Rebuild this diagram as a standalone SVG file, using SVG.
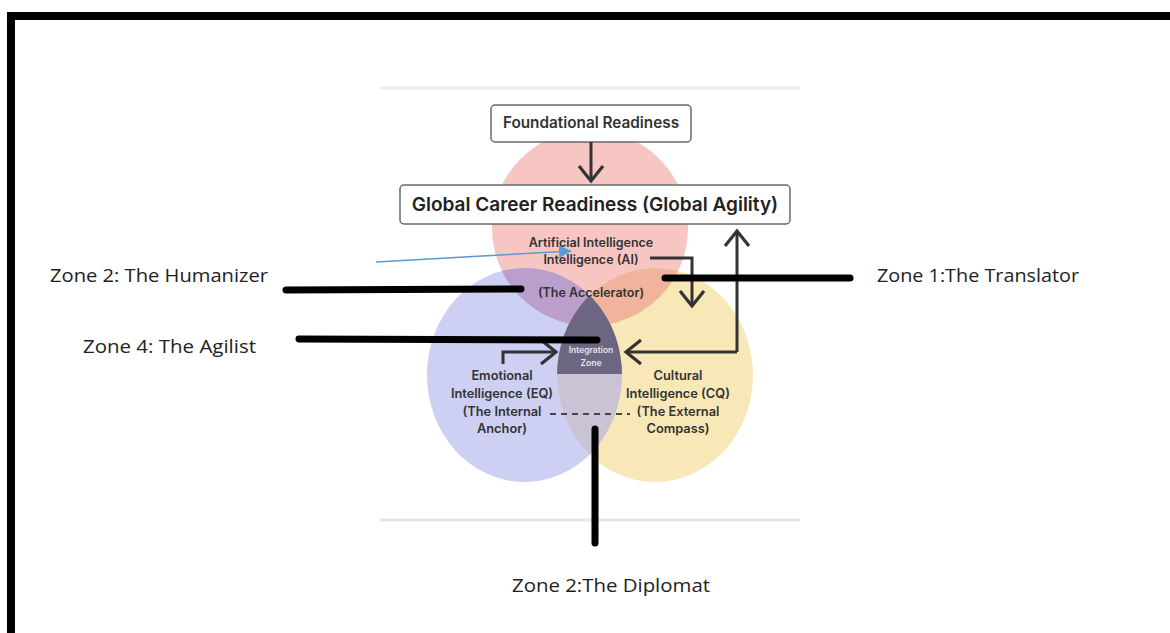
<svg xmlns="http://www.w3.org/2000/svg" width="1170" height="633" viewBox="0 0 1170 633">
  <style>
    .box { fill: #ffffff; stroke: #6a6a6a; stroke-width: 1.5; }
    .dtext { font-family: Inter, "Liberation Sans", sans-serif; font-weight: 600; fill: #333333; text-anchor: middle; }
    .zone { font-family: "Open Sans", "Liberation Sans", sans-serif; font-size: 18.5px; fill: #222222; }
    .flow { fill: none; stroke: #333333; stroke-width: 3; }
    .bar { fill: none; stroke: #000000; stroke-width: 7; stroke-linecap: round; }
  </style>
  <defs>
    <marker id="chev" markerUnits="userSpaceOnUse" markerWidth="22" markerHeight="30" refX="17" refY="14" orient="auto" overflow="visible">
      <path d="M2,2 L17,14 L2,26" fill="none" stroke="#333333" stroke-width="3.2" stroke-linejoin="miter"/>
    </marker>
    <marker id="blueHead" markerUnits="userSpaceOnUse" markerWidth="14" markerHeight="12" refX="12" refY="6" orient="auto">
      <path d="M0,0 L13,6 L0,12 z" fill="#5b9bd5"/>
    </marker>
    <clipPath id="clipBlue"><ellipse cx="524.5" cy="375" rx="97.5" ry="107"/></clipPath>
    <clipPath id="clipYellow"><ellipse cx="655" cy="375" rx="98" ry="107"/></clipPath>
    <clipPath id="clipTop"><rect x="500" y="200" width="200" height="174"/></clipPath>
  </defs>

  <rect x="0" y="0" width="1170" height="633" fill="#ffffff"/>

  <!-- outer frame -->
  <path d="M11,633 L11,16 L1170,16" fill="none" stroke="#000000" stroke-width="8"/>

  <!-- light separators of embedded picture -->
  <line x1="380" y1="88" x2="800" y2="88" stroke="#ececec" stroke-width="3"/>
  <line x1="380" y1="520" x2="800" y2="520" stroke="#e6e6e6" stroke-width="3"/>

  <!-- Venn circles -->
  <g id="circle-ai">
    <ellipse cx="590" cy="228" rx="98" ry="98" fill="#f7c6c3"/>
  </g>
  <g id="circle-eq">
    <ellipse cx="524.5" cy="375" rx="97.5" ry="107" fill="#cdd0f2"/>
  </g>
  <g id="circle-cq">
    <ellipse cx="655" cy="375" rx="98" ry="107" fill="#f8e8b7"/>
  </g>
  <g id="overlaps">
    <ellipse cx="590" cy="228" rx="98" ry="98" fill="#b99fca" clip-path="url(#clipBlue)"/>
    <ellipse cx="590" cy="228" rx="98" ry="98" fill="#f1b39b" clip-path="url(#clipYellow)"/>
    <ellipse cx="655" cy="375" rx="98" ry="107" fill="#c9c3d5" clip-path="url(#clipBlue)"/>
  </g>
  <g id="integration-zone">
    <g clip-path="url(#clipBlue)">
      <ellipse cx="655" cy="375" rx="98" ry="107" fill="#6d6682" clip-path="url(#clipTop)"/>
    </g>
    <text class="dtext" x="591" y="353" font-size="8.5" style="fill:#e6e3ee">Integration</text>
    <text class="dtext" x="591" y="366" font-size="8.5" style="fill:#e6e3ee">Zone</text>
  </g>

  <!-- circle labels -->
  <g id="label-ai">
    <text class="dtext" x="591" y="247" font-size="12.5">Artificial Intelligence</text>
    <text class="dtext" x="591" y="264" font-size="12.5">Intelligence (AI)</text>
    <text class="dtext" x="591" y="297" font-size="12.5">(The Accelerator)</text>
  </g>
  <g id="label-eq">
    <text class="dtext" x="502" y="380" font-size="12.8">Emotional</text>
    <text class="dtext" x="502" y="398" font-size="12.8">Intelligence (EQ)</text>
    <text class="dtext" x="502" y="416" font-size="12.8">(The Internal</text>
    <text class="dtext" x="502" y="433" font-size="12.8">Anchor)</text>
  </g>
  <g id="label-cq">
    <text class="dtext" x="678" y="380" font-size="12.8">Cultural</text>
    <text class="dtext" x="678" y="398" font-size="12.8">Intelligence (CQ)</text>
    <text class="dtext" x="678" y="416" font-size="12.8">(The External</text>
    <text class="dtext" x="678" y="433" font-size="12.8">Compass)</text>
  </g>

  <!-- boxes -->
  <g id="node-foundational">
    <rect class="box" x="491" y="105" width="200" height="37" rx="4"/>
    <text class="dtext" x="591" y="128" font-size="15.3">Foundational Readiness</text>
  </g>
  <g id="node-global">
    <rect class="box" x="400" y="185" width="390" height="39" rx="4"/>
    <text class="dtext" x="595" y="211" font-size="19" style="fill:#222222">Global Career Readiness (Global Agility)</text>
  </g>

  <!-- connectors -->
  <g id="connectors">
    <line class="flow" x1="591" y1="142" x2="591" y2="181" marker-end="url(#chev)"/>
    <path class="flow" d="M650,258 L692,258 L692,306" marker-end="url(#chev)"/>
    <path class="flow" d="M737,352 L737,231" marker-end="url(#chev)"/>
    <path class="flow" d="M737,352 L626,352" marker-end="url(#chev)"/>
    <path class="flow" d="M503,364 L503,352 L556,352" marker-end="url(#chev)"/>
    <line x1="550" y1="414" x2="630" y2="414" stroke="#444444" stroke-width="2" stroke-dasharray="6,5"/>
    <line x1="376" y1="262" x2="571" y2="251" stroke="#5b9bd5" stroke-width="1.6" marker-end="url(#blueHead)"/>
    <line class="bar" x1="286" y1="290" x2="521" y2="289"/>
    <line class="bar" x1="299" y1="339" x2="597" y2="340"/>
    <line class="bar" x1="665" y1="278" x2="850" y2="278"/>
    <line class="bar" x1="595" y1="429" x2="595" y2="543"/>
  </g>

  <!-- zone labels -->
  <g id="zone-humanizer"><text class="zone" x="50" y="282" textLength="218" lengthAdjust="spacingAndGlyphs">Zone 2: The Humanizer</text></g>
  <g id="zone-agilist"><text class="zone" x="83" y="353" textLength="173" lengthAdjust="spacingAndGlyphs">Zone 4: The Agilist</text></g>
  <g id="zone-translator"><text class="zone" x="877" y="282" textLength="202" lengthAdjust="spacingAndGlyphs">Zone 1:The Translator</text></g>
  <g id="zone-diplomat"><text class="zone" x="512" y="592" textLength="198" lengthAdjust="spacingAndGlyphs">Zone 2:The Diplomat</text></g>
</svg>
